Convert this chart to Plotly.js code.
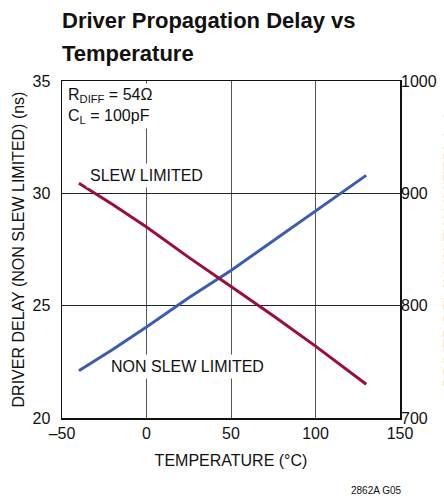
<!DOCTYPE html>
<html>
<head>
<meta charset="utf-8">
<script src="https://cdn.plot.ly/plotly-3.0.1.min.js"></script>
<style>
html,body{margin:0;padding:0;background:#fff;}
#chart{width:444px;height:500px;}
</style>
</head>
<body>
<div id="chart"></div>
<script>
// Temperature (°C)
const temperature = [-40, -20, 0, 25, 50, 75, 100, 130];
// Non slew limited driver delay (ns) - left axis
const nonSlewDelay = [22.1, 23.05, 24.05, 25.35, 26.57, 27.9, 29.24, 30.8];
// Slew limited driver delay (ns) - right axis
const slewDelay = [909, 890, 870, 843, 817, 791, 764, 730];

const xTicks = [-50, 0, 50, 100, 150];
const yTicks = [20, 25, 30, 35];
const y2Ticks = [700, 800, 900, 1000];

const FONT = '"Liberation Sans Narrow", "Arial Narrow", "Liberation Sans", sans-serif';

const W = 444, H = 500, ML = 62, MR = 44, MT = 81, MB = 82;
const PW = W - ML - MR, PH = H - MT - MB;
const px2x = px => (px - ML) / PW;
const py2y = py => (H - MB - py) / PH;

const traces = [
  {
    x: temperature, y: nonSlewDelay, type: 'scatter', mode: 'lines',
    line: {color: '#3b5cb0', width: 3}, yaxis: 'y', hoverinfo: 'skip'
  },
  {
    x: temperature, y: slewDelay, type: 'scatter', mode: 'lines',
    line: {color: '#9a0e38', width: 3}, yaxis: 'y2', hoverinfo: 'skip'
  }
];

const layout = {
  width: W, height: H,
  margin: {l: ML, r: MR, t: MT, b: MB, pad: 0},
  paper_bgcolor: '#fff', plot_bgcolor: '#fff',
  showlegend: false,
  font: {family: FONT, size: 16, color: '#111'},
  xaxis: {
    range: [-50, 150], tickvals: xTicks, ticktext: xTicks.map(v => v < 0 ? '\u2013' + Math.abs(v) : String(v)),
    showgrid: true, gridcolor: '#555', gridwidth: 1,
    showline: true, linecolor: '#111', linewidth: 1.5, mirror: true,
    ticks: '', zeroline: false,
    tickfont: {family: FONT, size: 16, color: '#111'},
    title: {text: 'TEMPERATURE (°C)', font: {family: FONT, size: 16, color: '#111'}, standoff: 14}
  },
  yaxis: {
    range: [20, 35], tickvals: yTicks,
    showgrid: true, gridcolor: '#222', gridwidth: 1,
    showline: true, linecolor: '#111', linewidth: 1.5, mirror: true,
    ticks: '', zeroline: false, ticklabelstandoff: 7,
    tickfont: {family: FONT, size: 16, color: '#111'},
    title: {text: 'DRIVER DELAY (NON SLEW LIMITED) (ns)', font: {family: FONT, size: 16, color: '#111'}, standoff: 4}
  },
  yaxis2: {
    range: [700, 1000], tickvals: y2Ticks, overlaying: 'y', side: 'right',
    showgrid: false, showline: false, ticks: '', zeroline: false,
    tickfont: {family: FONT, size: 16, color: '#111'}
  },
  annotations: [
    {xref: 'paper', yref: 'paper', x: px2x(60), y: py2y(6), xanchor: 'left', yanchor: 'top', align: 'left',
     text: '<b>Driver Propagation Delay vs</b>', showarrow: false,
     font: {family: FONT, size: 22, color: '#111'}},
    {xref: 'paper', yref: 'paper', x: px2x(60), y: py2y(39), xanchor: 'left', yanchor: 'top', align: 'left',
     text: '<b>Temperature</b>', showarrow: false,
     font: {family: FONT, size: 22, color: '#111'}},
    {xref: 'paper', yref: 'paper', x: px2x(450), y: 0.5, xanchor: 'center', yanchor: 'middle',
     text: 'DRIVER DELAY (SLEW LIMITED) (ns)', textangle: -90, showarrow: false,
     font: {family: FONT, size: 16, color: '#111'}},
    {xref: 'paper', yref: 'paper', x: 0.01, y: 0.995, xanchor: 'left', yanchor: 'top', align: 'left',
     text: 'R<sub>DIFF</sub> = 54Ω<br>C<sub>L</sub> = 100pF', showarrow: false,
     bgcolor: '#fff', borderpad: 2, font: {family: FONT, size: 16, color: '#111'}},
    {xref: 'x', yref: 'y', x: 0, y: 30.78, xanchor: 'center', yanchor: 'middle',
     text: 'SLEW LIMITED', showarrow: false, bgcolor: '#fff', borderpad: 3,
     font: {family: FONT, size: 16, color: '#111'}},
    {xref: 'x', yref: 'y', x: 24.5, y: 22.28, xanchor: 'center', yanchor: 'middle',
     text: 'NON SLEW LIMITED', showarrow: false, bgcolor: '#fff', borderpad: 3,
     font: {family: FONT, size: 16, color: '#111'}},
    {xref: 'paper', yref: 'paper', x: px2x(376), y: py2y(490), xanchor: 'center', yanchor: 'middle',
     text: '2862A G05', showarrow: false, font: {family: FONT, size: 10, color: '#111'}}
  ]
};

Plotly.newPlot('chart', traces, layout, {staticPlot: true, displayModeBar: false});
</script>
</body>
</html>
